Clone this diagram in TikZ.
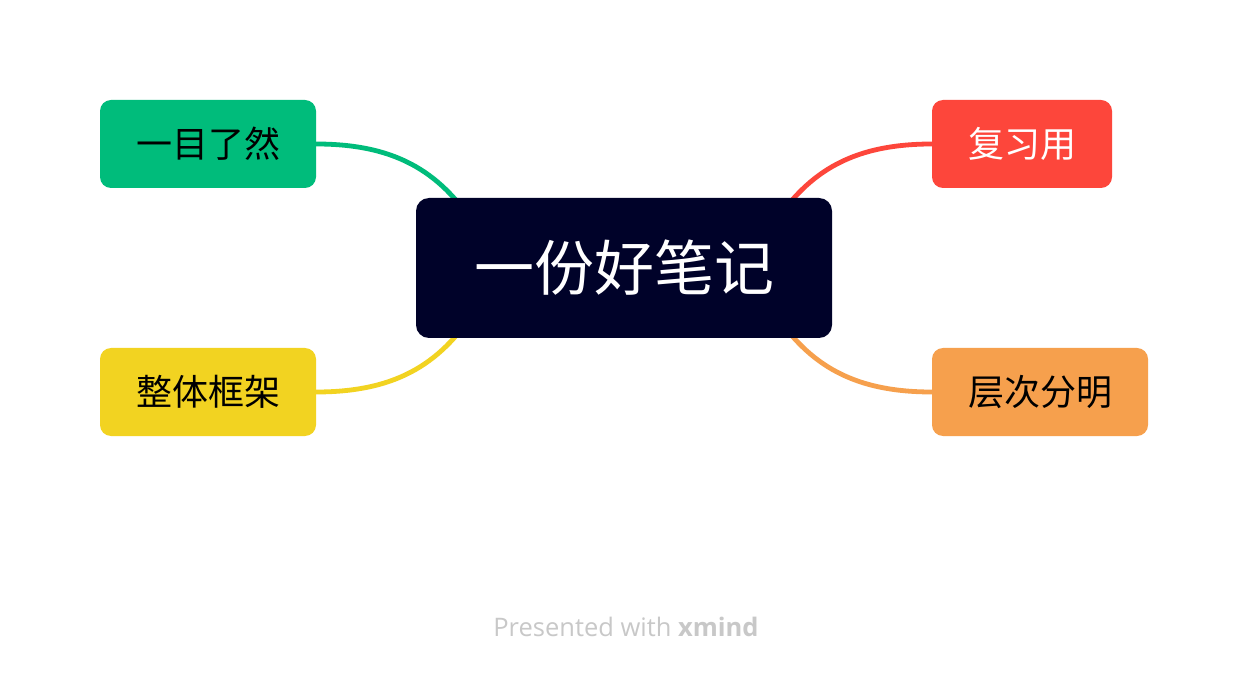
\documentclass[tikz,border=0pt]{standalone}
\usepackage{fontspec}
\setmainfont{Open Sans}
\newfontfamily\cjk{Noto Sans CJK SC}
\usetikzlibrary{backgrounds}
\definecolor{cgreen}{HTML}{00BC7B}
\definecolor{cyellow}{HTML}{F2D321}
\definecolor{cred}{HTML}{FD463B}
\definecolor{corange}{HTML}{F6A04D}
\definecolor{cdark}{HTML}{000229}
\definecolor{cfoot}{HTML}{C8C8C8}
\tikzset{
  topicbox/.style={rectangle, rounded corners=11pt, inner sep=0pt, minimum height=88pt,
    font=\cjk\fontsize{36}{42}\selectfont},
  link/.style={line width=4.8pt, line cap=round},
}
\begin{document}
\begin{tikzpicture}[x=1pt,y=-1pt]
\useasboundingbox (0,0) rectangle (1248,676);
\node[rectangle, rounded corners=13pt, fill=cdark, text=white, minimum width=416pt, minimum height=140pt,
  inner sep=0pt, font=\cjk\fontsize{60}{68}\selectfont] (c) at (624,268) {一份好笔记};
\node[topicbox, fill=cgreen, text=black, minimum width=216pt] (g) at (208,144) {一目了然};
\node[topicbox, fill=cyellow, text=black, minimum width=216pt] (y) at (208,392) {整体框架};
\node[topicbox, fill=cred, text=white, minimum width=180pt] (r) at (1022,144) {复习用};
\node[topicbox, fill=corange, text=black, minimum width=216pt] (o) at (1040,392) {层次分明};
\coordinate (gend) at (478,230);
\coordinate (yend) at (478,306);
\coordinate (rend) at (770,230);
\coordinate (oend) at (770,306);
\begin{scope}[on background layer]
\fill[white] (0,0) rectangle (1248,676);
\draw[link, cgreen] (g.east) .. controls (400,144) and (443,175) .. (gend);
\draw[link, cyellow] (y.east) .. controls (400,392) and (443,361) .. (yend);
\draw[link, cred] (r.west) .. controls (848,144) and (805,175) .. (rend);
\draw[link, corange] (o.west) .. controls (848,392) and (805,361) .. (oend);
\end{scope}
\node[anchor=base, text=cfoot, font=\fontsize{25.5}{30}\selectfont, inner sep=0pt] (foot) at (626,636)
  {Presented with \textbf{xmind}};
\end{tikzpicture}
\end{document}
